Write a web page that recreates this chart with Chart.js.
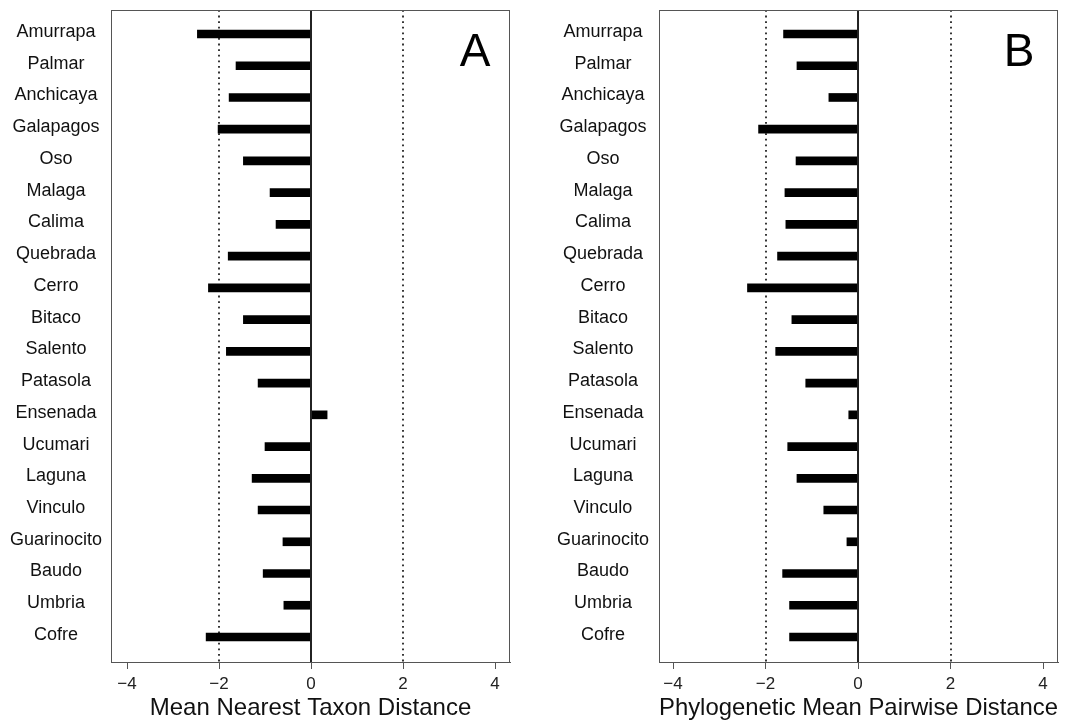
<!DOCTYPE html>
<html>
<head>
<meta charset="utf-8">
<script src="https://cdn.jsdelivr.net/npm/chart.js@4.4.1/dist/chart.umd.min.js"></script>
<style>
body { margin: 0; background: #fff; }
.panel { position: absolute; top: 0; width: 539px; height: 723px; }
</style>
</head>
<body>
<div class="panel" style="left:0"><canvas id="chartA" width="539" height="723"></canvas></div>
<div class="panel" style="left:539px"><canvas id="chartB" width="539" height="723"></canvas></div>
<script>
var sites = ["Amurrapa", "Palmar", "Anchicaya", "Galapagos", "Oso", "Malaga", "Calima",
             "Quebrada", "Cerro", "Bitaco", "Salento", "Patasola", "Ensenada", "Ucumari",
             "Laguna", "Vinculo", "Guarinocito", "Baudo", "Umbria", "Cofre"];
var mntd = [-2.47, -1.63, -1.78, -2.02, -1.47, -0.89, -0.76, -1.80, -2.23, -1.47,
            -1.84, -1.15, 0.35, -1.00, -1.28, -1.15, -0.61, -1.04, -0.59, -2.28];
var mpd  = [-1.61, -1.32, -0.63, -2.15, -1.34, -1.58, -1.56, -1.74, -2.39, -1.43,
            -1.78, -1.13, -0.20, -1.52, -1.32, -0.74, -0.24, -1.63, -1.48, -1.48];
var xTicks = [-4, -2, 0, 2, 4];
var refLines = [-2, 2];

var FONT = "'Liberation Sans', Arial, sans-serif";

// dotted reference lines behind the bars, zero line + box + panel letter on top
var framePlugin = {
  id: 'frame',
  beforeDatasetsDraw: function(chart) {
    var ctx = chart.ctx, a = chart.chartArea, xs = chart.scales.x;
    ctx.save();
    ctx.strokeStyle = '#222';
    ctx.lineWidth = 1.8;
    ctx.setLineDash([1.8, 3.8]);
    refLines.forEach(function(v) {
      var px = Math.round(xs.getPixelForValue(v));
      ctx.beginPath();
      ctx.moveTo(px, a.top);
      ctx.lineTo(px, a.bottom);
      ctx.stroke();
    });
    ctx.restore();
  },
  afterDatasetsDraw: function(chart, args, opts) {
    var ctx = chart.ctx, a = chart.chartArea, xs = chart.scales.x;
    ctx.save();
    var z = xs.getPixelForValue(0);
    ctx.strokeStyle = '#222';
    ctx.lineWidth = 2;
    ctx.beginPath();
    ctx.moveTo(z, a.top);
    ctx.lineTo(z, a.bottom);
    ctx.stroke();

    ctx.strokeStyle = '#555';
    ctx.lineWidth = 1;
    ctx.strokeRect(a.left + 0.5, a.top + 0.5, a.right - a.left - 1, a.bottom - a.top);

    ctx.fillStyle = '#000';
    ctx.font = '46px ' + FONT;
    ctx.textAlign = 'center';
    ctx.textBaseline = 'alphabetic';
    ctx.fillText(opts.letter, a.right - opts.letterDx, a.top + 56);
    ctx.restore();
  }
};

function makeChart(id, values, title, letter, cfg) {
  var ctx = document.getElementById(id).getContext('2d');
  return new Chart(ctx, {
    type: 'bar',
    data: {
      datasets: [{
        data: values.map(function(v, i) { return { x: v, y: i }; }),
        backgroundColor: '#000',
        borderWidth: 0,
        barThickness: 8
      }]
    },
    options: {
      indexAxis: 'y',
      responsive: false,
      animation: false,
      layout: { padding: { top: 10, right: cfg.padRight, left: 0, bottom: 0 } },
      plugins: {
        legend: { display: false },
        tooltip: { enabled: false },
        frame: { letter: letter, letterDx: cfg.letterDx }
      },
      scales: {
        x: {
          type: 'linear',
          min: cfg.xmin,
          max: cfg.xmax,
          afterBuildTicks: function(scale) {
            scale.ticks = xTicks.map(function(v) { return { value: v }; });
          },
          afterFit: function(scale) {
            scale.height = 61;
            scale.paddingLeft = 0;
            scale.paddingRight = 0;
          },
          border: { display: true, color: '#555', width: 1 },
          grid: { display: true, drawOnChartArea: false, drawTicks: true, tickLength: 7, color: '#555' },
          ticks: {
            padding: 5,
            color: '#222',
            font: { family: FONT, size: 17 },
            callback: function(v) { return v < 0 ? '\u2212' + Math.abs(v) : String(v); }
          },
          title: {
            display: true,
            text: title,
            color: '#111',
            font: { family: FONT, size: 24 },
            padding: { top: 0, bottom: 0 }
          }
        },
        y: {
          type: 'linear',
          reverse: true,
          offset: false,
          min: -0.756,
          max: 19.788,
          afterBuildTicks: function(scale) {
            scale.ticks = sites.map(function(s, i) { return { value: i }; });
          },
          afterFit: function(scale) {
            scale.width = cfg.axisWidth;
            scale.paddingTop = 0;
            scale.paddingBottom = 0;
          },
          border: { display: false },
          grid: { display: false, drawTicks: false, offset: false },
          ticks: {
            autoSkip: false,
            crossAlign: 'center',
            padding: cfg.labelPad,
            labelOffset: -2,
            color: '#111',
            font: { family: FONT, size: 18 },
            callback: function(v) { return sites[v]; }
          }
        }
      }
    },
    plugins: [framePlugin]
  });
}

var chartA = makeChart('chartA', mntd, 'Mean Nearest Taxon Distance', 'A',
  { xmin: -4.348, xmax: 4.326, padRight: 29, axisWidth: 111, labelPad: 9, letterDx: 35 });
var chartB = makeChart('chartB', mpd, 'Phylogenetic Mean Pairwise Distance', 'B',
  { xmin: -4.303, xmax: 4.324, padRight: 20, axisWidth: 120, labelPad: 10, letterDx: 39 });
</script>
</body>
</html>
